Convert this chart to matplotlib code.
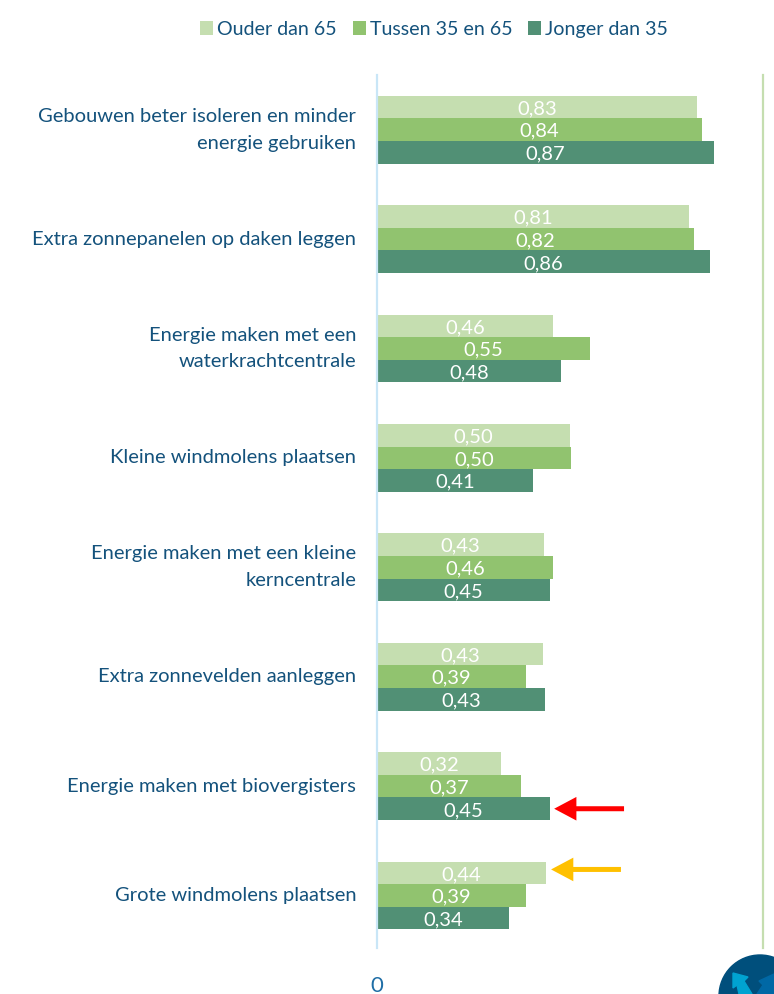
import matplotlib
matplotlib.use('Agg')
import matplotlib.pyplot as plt
import numpy as np
from matplotlib.patches import Circle, Polygon

categories = ['Gebouwen beter isoleren en minder\nenergie gebruiken',
              'Extra zonnepanelen op daken leggen',
              'Energie maken met een\nwaterkrachtcentrale',
              'Kleine windmolens plaatsen',
              'Energie maken met een kleine\nkerncentrale',
              'Extra zonnevelden aanleggen',
              'Energie maken met biovergisters',
              'Grote windmolens plaatsen']
ouder = [0.830, 0.808, 0.457, 0.499, 0.433, 0.431, 0.320, 0.437]
tussen = [0.842, 0.821, 0.552, 0.503, 0.456, 0.385, 0.373, 0.386]
jonger = [0.873, 0.863, 0.476, 0.405, 0.447, 0.434, 0.448, 0.341]
series_names = ['Ouder dan 65', 'Tussen 35 en 65', 'Jonger dan 35']

TEXT = '#14527c'
plt.rcParams['font.family'] = ['Lato', 'DejaVu Sans']

W, H = 774, 994
fig = plt.figure(figsize=(W/100, H/100), dpi=100)
ax = fig.add_axes([377/W, 1-948/H, 386/W, 873/H])

y = np.arange(len(categories))
h = 0.207
colors = ['#c5deb0', '#91c36f', '#519075']
for i, (vals, name, col) in enumerate(zip([ouder, tussen, jonger], series_names, colors)):
    rects = ax.barh(y + (i-1)*h, vals, h, color=col, label=name)
    labs = ax.bar_label(rects, labels=[f'{v:.2f}'.replace('.', ',') for v in vals],
                        label_type='center', color='white', fontsize=14.5)
    for lab in labs:
        lab.xyann = (lab.xyann[0], -1.2)

ax.set_xlim(0, 1)
ax.set_ylim(7.48, -0.50)
ax.set_yticks(y)
ax.set_yticklabels(categories, fontsize=14.5, color=TEXT, linespacing=1.7, va='center')
ax.set_xticks([0])
ax.set_xticklabels(['0'], fontsize=16, color='#1f6ea6')
ax.tick_params(axis='y', length=0, pad=15)
ax.tick_params(axis='x', length=0, pad=20)
for s in ['top', 'bottom']:
    ax.spines[s].set_visible(False)
ax.spines['left'].set_color('#c9e6f7')
ax.spines['left'].set_linewidth(1.6)
ax.spines['right'].set_color('#c5deb0')
ax.spines['right'].set_linewidth(1.6)

# arrows pointing at the two highlighted bars
ax.annotate('', xy=(0.459, 6 + h), xytext=(0.64, 6 + h),
            arrowprops=dict(facecolor='#ff0000', edgecolor='none', width=3.6, headwidth=17, headlength=16, shrink=0))
ax.annotate('', xy=(0.451, 7 - h*1.15), xytext=(0.632, 7 - h*1.15),
            arrowprops=dict(facecolor='#ffc000', edgecolor='none', width=3.6, headwidth=17, headlength=16, shrink=0))

fig.legend(loc='upper left', bbox_to_anchor=(200/W, 1-21/H), ncol=3, frameon=False,
           fontsize=14.1, labelcolor=TEXT, handlelength=0.68, handleheight=0.72,
           handletextpad=0.2, columnspacing=0.8, borderaxespad=0, borderpad=0)

# logo in the corner, cut off by the edge of the page
logo = fig.add_axes([0, 0, 1, 1], zorder=5)
logo.set_xlim(0, W)
logo.set_ylim(H, 0)
logo.axis('off')
logo.patch.set_alpha(0)
logo.add_patch(Circle((760, 996), 41, color='#004f7c'))
logo.add_patch(Polygon([(733, 973), (748, 977), (744, 981), (752, 994), (739, 994), (737, 985), (733, 988)], color='#00a3d1'))
logo.add_patch(Polygon([(774, 974), (759, 981), (763, 985), (757, 994), (774, 994)], color='#0068a5'))

fig.savefig('out.png', dpi=100)
